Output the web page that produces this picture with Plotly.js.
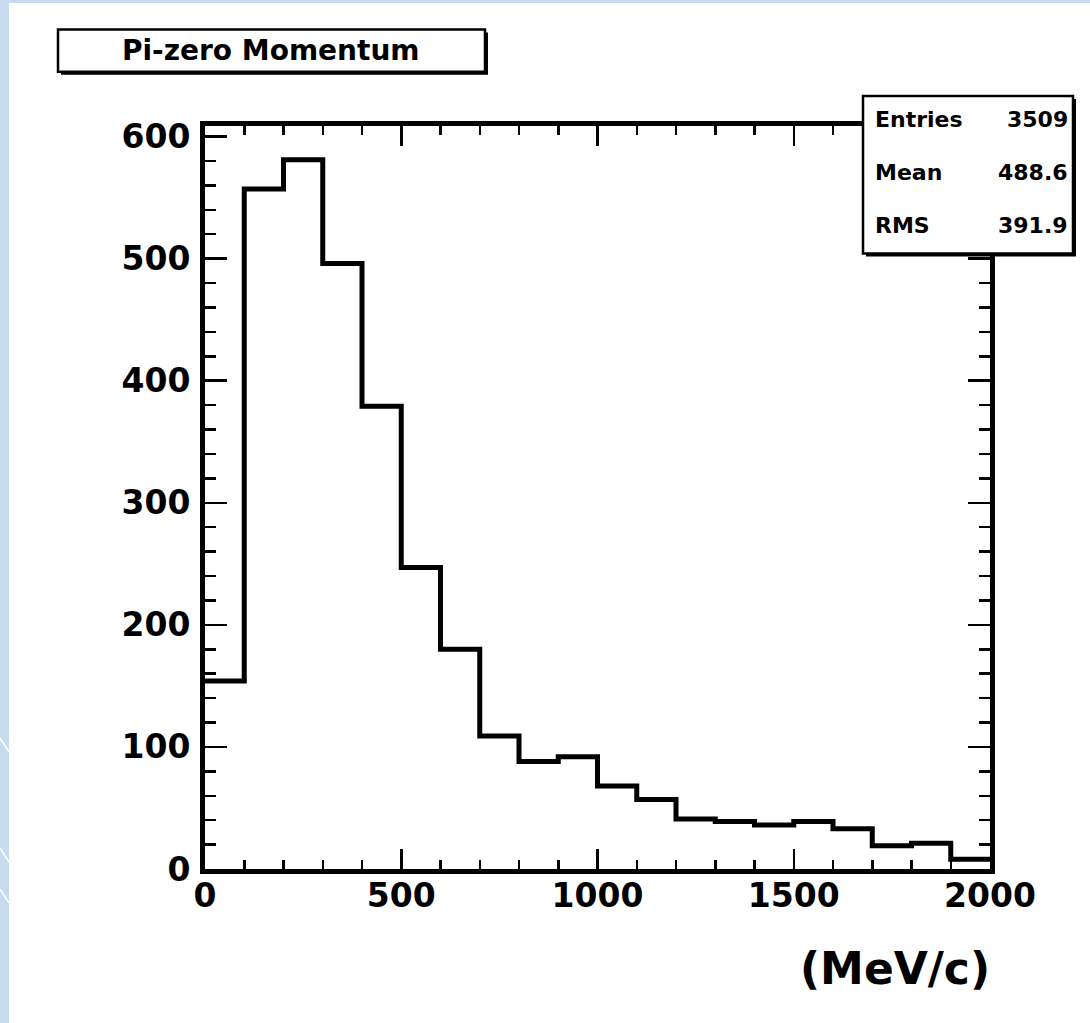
<!DOCTYPE html>
<html>
<head>
<meta charset="utf-8">
<script src="https://cdn.plot.ly/plotly-3.0.1.min.js"></script>
<style>
  html, body { margin: 0; padding: 0; background: #c6dbee; width: 1090px; height: 1023px; overflow: hidden; }
  #deco { position: absolute; left: 0; top: 0; }
  #chart { position: absolute; left: 9px; top: 3px; width: 1081px; height: 1020px; }
</style>
</head>
<body>
<svg id="deco" width="9" height="1023">
  <line x1="0" y1="738" x2="9" y2="752" stroke="#ffffff" stroke-width="1.5"/>
  <line x1="0" y1="848" x2="9" y2="862" stroke="#ffffff" stroke-width="1.5"/>
  <line x1="0" y1="889" x2="9" y2="903" stroke="#ffffff" stroke-width="1.5"/>
</svg>
<div id="chart"></div>
<script>
// ---- data ----
const binLow = [0, 100, 200, 300, 400, 500, 600, 700, 800, 900,
                1000, 1100, 1200, 1300, 1400, 1500, 1600, 1700, 1800, 1900];
const binHighEdge = 2000;
const counts = [154, 557, 581, 496, 379, 247, 180, 109, 88, 92,
                68, 57, 41, 39, 36, 39, 33, 19, 21, 8];
const histTitle = "Pi-zero Momentum";
const xAxisLabel = "(MeV/c)";
const statNames = ["Entries", "Mean", "RMS"];
const statValues = ["3509", "488.6", "391.9"];
const xTickVals = [0, 500, 1000, 1500, 2000];
const yTickVals = [0, 100, 200, 300, 400, 500, 600];

// ---- geometry helpers (original image pixel -> paper coords) ----
const PL = 205, PR = 990, PT = 126, PB = 866;
const px = x => (x - PL) / (PR - PL);
const py = y => (PB - y) / (PB - PT);

const FONT = "DejaVu Sans";

// step outline
const xs = binLow.concat([binHighEdge]);
const ys = counts.concat([counts[counts.length - 1]]);

const trace = {
  type: "scatter",
  mode: "lines",
  x: xs,
  y: ys,
  line: { shape: "hv", color: "#000000", width: 5 },
  hoverinfo: "x+y",
  showlegend: false
};

const shapes = [
  // title box shadow + box
  { type: "rect", xref: "paper", yref: "paper", x0: px(61), x1: px(488), y0: py(75), y1: py(33),
    line: { width: 0 }, fillcolor: "#000000" },
  { type: "rect", xref: "paper", yref: "paper", x0: px(58), x1: px(485), y0: py(72), y1: py(30),
    line: { width: 2.5, color: "#000000" }, fillcolor: "#ffffff" },
  // stats box shadow + box
  { type: "rect", xref: "paper", yref: "paper", x0: px(866), x1: px(1076), y0: py(256), y1: py(99),
    line: { width: 0 }, fillcolor: "#000000" },
  { type: "rect", xref: "paper", yref: "paper", x0: px(863), x1: px(1073), y0: py(253), y1: py(96),
    line: { width: 2.5, color: "#000000" }, fillcolor: "#ffffff" }
];

const annotations = [
  { xref: "paper", yref: "paper", x: px(271), y: py(51), text: "<b>" + histTitle + "</b>",
    showarrow: false, xanchor: "center", yanchor: "middle",
    font: { family: FONT, size: 28, color: "#000000" } },
  { xref: "paper", yref: "paper", x: px(992), y: py(965), text: "<b>" + xAxisLabel + "</b>",
    showarrow: false, xanchor: "right", yanchor: "middle",
    font: { family: FONT, size: 44, color: "#000000" } }
];
const statRowsY = [120, 172, 225];
statNames.forEach((n, i) => {
  annotations.push({ xref: "paper", yref: "paper", x: px(873), y: py(statRowsY[i]), text: "<b>" + n + "</b>",
    showarrow: false, xanchor: "left", yanchor: "middle",
    font: { family: FONT, size: 22, color: "#000000" } });
  annotations.push({ xref: "paper", yref: "paper", x: px(1070), y: py(statRowsY[i]), text: "<b>" + statValues[i] + "</b>",
    showarrow: false, xanchor: "right", yanchor: "middle",
    font: { family: FONT, size: 22, color: "#000000" } });
});

const layout = {
  width: 1081,
  height: 1020,
  margin: { l: 196, r: 100, t: 123, b: 154, pad: 0 },
  paper_bgcolor: "#ffffff",
  plot_bgcolor: "#ffffff",
  showlegend: false,
  xaxis: {
    range: [0, 2000],
    showgrid: false, zeroline: false,
    showline: true, linewidth: 5, linecolor: "#000000", mirror: "allticks",
    ticks: "inside", ticklen: 20, tickwidth: 2.5, tickcolor: "#000000",
    tickmode: "array", tickvals: xTickVals, ticktext: xTickVals.map(v => "<b>" + v + "</b>"),
    minor: { dtick: 100, ticks: "inside", ticklen: 9, tickwidth: 2.5, tickcolor: "#000000", showgrid: false },
    tickfont: { family: FONT, size: 33, color: "#000000" },
    ticklabelstandoff: -7,
    fixedrange: true
  },
  yaxis: {
    range: [0, 608.6],
    showgrid: false, zeroline: false,
    showline: true, linewidth: 5, linecolor: "#000000", mirror: "allticks",
    ticks: "inside", ticklen: 22, tickwidth: 2.5, tickcolor: "#000000",
    tickmode: "array", tickvals: yTickVals, ticktext: yTickVals.map(v => "<b>" + v + "</b>"),
    minor: { dtick: 20, ticks: "inside", ticklen: 11, tickwidth: 2.5, tickcolor: "#000000", showgrid: false },
    tickfont: { family: FONT, size: 33, color: "#000000" },
    ticklabelstandoff: 3,
    fixedrange: true
  },
  shapes: shapes,
  annotations: annotations
};

Plotly.newPlot("chart", [trace], layout, { displayModeBar: false, staticPlot: true });
</script>
</body>
</html>
